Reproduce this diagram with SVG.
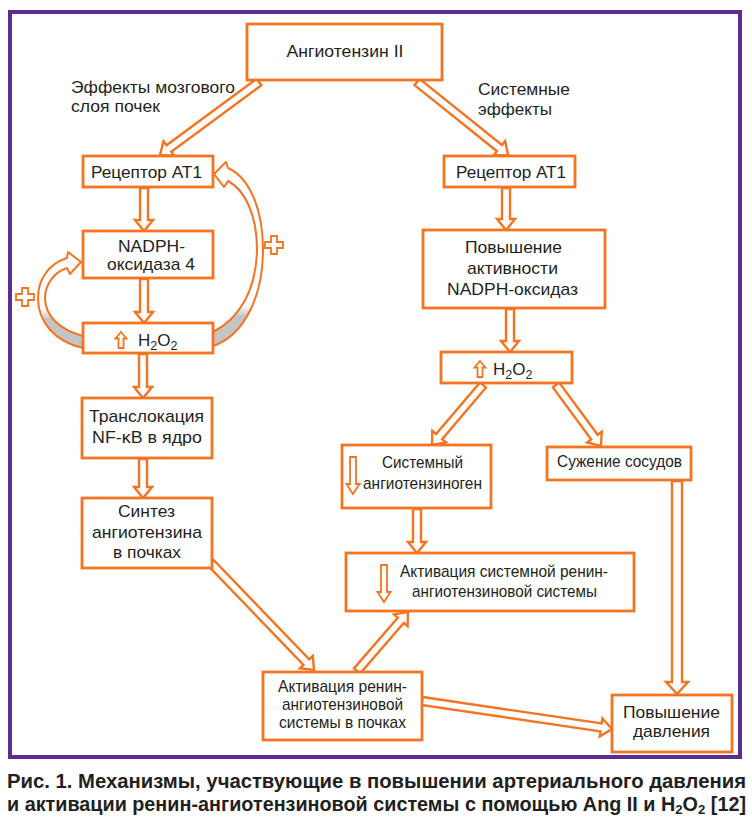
<svg xmlns="http://www.w3.org/2000/svg" width="752" height="834" viewBox="0 0 752 834">
<defs>
<style>
.box{fill:#fff;stroke:#F47421;stroke-width:2.8}
.arr{fill:#fff;stroke:#F47421;stroke-width:2.4;stroke-linejoin:miter}
.sm{fill:#fff;stroke:#F47421;stroke-width:1.8}
.t{font-family:"Liberation Sans",Arial,sans-serif;font-size:17px;fill:#231F20}
.c{text-anchor:middle}
.cap{font-family:"Liberation Sans Narrow","Liberation Sans",Arial,sans-serif;font-size:19.5px;font-weight:bold;fill:#231F20}
</style>
<linearGradient id="gR" gradientUnits="userSpaceOnUse" x1="0" y1="292" x2="0" y2="346">
<stop offset="0" stop-color="#fff"/><stop offset="0.25" stop-color="#fff"/><stop offset="0.45" stop-color="#c4c4c4"/><stop offset="1" stop-color="#c4c4c4"/>
</linearGradient>
<linearGradient id="gL" gradientUnits="userSpaceOnUse" x1="0" y1="300" x2="0" y2="348">
<stop offset="0" stop-color="#fff"/><stop offset="0.2" stop-color="#fff"/><stop offset="0.4" stop-color="#c4c4c4"/><stop offset="1" stop-color="#c4c4c4"/>
</linearGradient>
</defs>
<rect x="0" y="0" width="752" height="834" fill="#fff"/>
<rect x="10" y="12" width="730" height="745" fill="none" stroke="#5B2D8E" stroke-width="4"/>

<g id="connectors">
<path class="arr" transform="translate(259,82) rotate(143.6)" d="M0,-4 H112 V-9 L123,0 L112,9 V4 H0 Z"/>
<path class="arr" transform="translate(417,82) rotate(38.7)" d="M0,-4 H105.7 V-9 L116.7,0 L105.7,9 V4 H0 Z"/>
<path class="arr" transform="translate(144,188) rotate(90)" d="M0,-4 H32 V-9 L43,0 L32,9 V4 H0 Z"/>
<path class="arr" transform="translate(144,279) rotate(90)" d="M0,-4 H33 V-9 L44,0 L33,9 V4 H0 Z"/>
<path class="arr" transform="translate(143,354) rotate(90)" d="M0,-4 H33 V-9 L44,0 L33,9 V4 H0 Z"/>
<path class="arr" transform="translate(143,459) rotate(90)" d="M0,-4 H28 V-9 L39,0 L28,9 V4 H0 Z"/>
<path class="arr" transform="translate(211,563) rotate(46.1)" d="M0,-4 H137.5 V-9 L148.5,0 L137.5,9 V4 H0 Z"/>
<path class="arr" transform="translate(506,188) rotate(90)" d="M0,-4 H31 V-9 L42,0 L31,9 V4 H0 Z"/>
<path class="arr" transform="translate(510,309) rotate(90)" d="M0,-4 H32 V-9 L43,0 L32,9 V4 H0 Z"/>
<path class="arr" transform="translate(483,385) rotate(130.4)" d="M0,-4 H67.7 V-9 L78.7,0 L67.7,9 V4 H0 Z"/>
<path class="arr" transform="translate(556,385) rotate(53.6)" d="M0,-4 H64.8 V-9 L75.8,0 L64.8,9 V4 H0 Z"/>
<path class="arr" transform="translate(417,509) rotate(90)" d="M0,-4 H33 V-9 L44,0 L33,9 V4 H0 Z"/>
<path class="arr" transform="translate(677,481) rotate(90)" d="M0,-5 H201 V-11 L213,0 L201,11 V5 H0 Z"/>
<path class="arr" transform="translate(357,671) rotate(-49.2)" d="M0,-4 H67 V-9 L78,0 L67,9 V4 H0 Z"/>
<path class="arr" transform="translate(422,701) rotate(8.4)" d="M0,-4 H181 V-9 L192,0 L181,9 V4 H0 Z"/>
<path fill="url(#gR)" stroke="#F47421" stroke-width="2" stroke-linejoin="round" d="M214,174 L226,162 L228,168 C250,178 263,210 263,250 C263,295 245,335 213,346 L213,332 C240,318 256,290 257,250 C257,215 245,190 228,181 L224,187 Z"/>
<path fill="url(#gL)" stroke="#F47421" stroke-width="2" stroke-linejoin="round" d="M81,262 L68,252 L67,258 C48,264 38,280 38,298 C38,322 55,342 83,348 L83,336 C60,330 45,316 45,298 C45,285 54,272 67,268 L70,274 Z"/>
<path class="sm" transform="translate(274,245)" d="M-3,-9 H3 V-3 H9 V3 H3 V9 H-3 V3 H-9 V-3 H-3 Z"/>
<path class="sm" transform="translate(25,297)" d="M-3,-9 H3 V-3 H9 V3 H3 V9 H-3 V3 H-9 V-3 H-3 Z"/>
</g>

<g id="ang2"><rect class="box" x="247" y="24" width="195" height="56"/><text class="t c" x="345" y="57" textLength="117" lengthAdjust="spacingAndGlyphs">Ангиотензин II</text></g>
<g id="lbl-left"><text class="t" x="71" y="93" textLength="164" lengthAdjust="spacingAndGlyphs">Эффекты мозгового</text><text class="t" x="71" y="112" textLength="89" lengthAdjust="spacingAndGlyphs">слоя почек</text></g>
<g id="lbl-right"><text class="t" x="478" y="95" textLength="92" lengthAdjust="spacingAndGlyphs">Системные</text><text class="t" x="478" y="115" textLength="74" lengthAdjust="spacingAndGlyphs">эффекты</text></g>
<g id="at1-left"><rect class="box" x="83" y="156" width="130" height="31"/><text class="t c" x="146.5" y="178" textLength="111" lengthAdjust="spacingAndGlyphs">Рецептор AT1</text></g>
<g id="at1-right"><rect class="box" x="444" y="156" width="131" height="31"/><text class="t c" x="511" y="178" textLength="110" lengthAdjust="spacingAndGlyphs">Рецептор AT1</text></g>
<g id="nox4"><rect class="box" x="83" y="231" width="130" height="47"/><text class="t c" x="151.5" y="252" textLength="67" lengthAdjust="spacingAndGlyphs">NADPH-</text><text class="t c" x="151" y="270" textLength="88" lengthAdjust="spacingAndGlyphs">оксидаза 4</text></g>
<g id="h2o2-left"><rect class="box" x="83" y="323" width="130" height="30"/><path class="sm" transform="translate(121,340)" d="M0,-8 L5.5,-1.5 H2.5 V8 H-2.5 V-1.5 H-5.5 Z"/><text class="t" x="138" y="346">H<tspan font-size="12.5" dy="4">2</tspan><tspan dy="-4">O</tspan><tspan font-size="12.5" dy="4">2</tspan></text></g>
<g id="nfkb"><rect class="box" x="82" y="398" width="130" height="60"/><text class="t c" x="146.5" y="422" textLength="115" lengthAdjust="spacingAndGlyphs">Транслокация</text><text class="t c" x="147" y="443" textLength="110" lengthAdjust="spacingAndGlyphs">NF-κB в ядро</text></g>
<g id="synth"><rect class="box" x="82" y="498" width="130" height="70"/><text class="t c" x="146.5" y="517" textLength="57" lengthAdjust="spacingAndGlyphs">Синтез</text><text class="t c" x="147" y="538" textLength="110" lengthAdjust="spacingAndGlyphs">ангиотензина</text><text class="t c" x="147" y="558" textLength="68" lengthAdjust="spacingAndGlyphs">в почках</text></g>
<g id="nox-sys"><rect class="box" x="423" y="230" width="182" height="78"/><text class="t c" x="513.5" y="253" textLength="97" lengthAdjust="spacingAndGlyphs">Повышение</text><text class="t c" x="512.5" y="274" textLength="91" lengthAdjust="spacingAndGlyphs">активности</text><text class="t c" x="512.5" y="295" textLength="131" lengthAdjust="spacingAndGlyphs">NADPH-оксидаз</text></g>
<g id="h2o2-right"><rect class="box" x="441" y="352" width="131" height="31"/><path class="sm" transform="translate(480,369)" d="M0,-8 L5.5,-1.5 H2.5 V8 H-2.5 V-1.5 H-5.5 Z"/><text class="t" x="493" y="375">H<tspan font-size="12.5" dy="4">2</tspan><tspan dy="-4">O</tspan><tspan font-size="12.5" dy="4">2</tspan></text></g>
<g id="agt"><rect class="box" x="342" y="445" width="149" height="63"/><path class="sm" transform="translate(353,457)" d="M-3,0 H3 V27 H6.5 L0,37 L-6.5,27 H-3 Z"/><text class="t c" x="422.5" y="468" textLength="81" lengthAdjust="spacingAndGlyphs">Системный</text><text class="t c" x="422.5" y="489" textLength="119" lengthAdjust="spacingAndGlyphs">ангиотензиноген</text></g>
<g id="vaso"><rect class="box" x="547" y="447" width="144" height="33"/><text class="t c" x="619.5" y="467" textLength="125" lengthAdjust="spacingAndGlyphs">Сужение сосудов</text></g>
<g id="sys-ras"><rect class="box" x="346" y="553" width="288" height="58"/><path class="sm" transform="translate(384,565)" d="M-3,0 H3 V27 H6.5 L0,37 L-6.5,27 H-3 Z"/><text class="t c" x="504" y="577" textLength="208" lengthAdjust="spacingAndGlyphs">Активация системной ренин-</text><text class="t c" x="504.5" y="597" textLength="185" lengthAdjust="spacingAndGlyphs">ангиотензиновой системы</text></g>
<g id="kid-ras"><rect class="box" x="263" y="672" width="159" height="68"/><text class="t c" x="342.5" y="692" font-size="15" textLength="129" lengthAdjust="spacingAndGlyphs">Активация ренин-</text><text class="t c" x="342.5" y="710" font-size="15" textLength="121" lengthAdjust="spacingAndGlyphs">ангиотензиновой</text><text class="t c" x="342.5" y="728" font-size="15" textLength="127" lengthAdjust="spacingAndGlyphs">системы в почках</text></g>
<g id="bp"><rect class="box" x="612" y="695" width="120" height="57"/><text class="t c" x="671.5" y="718" textLength="97" lengthAdjust="spacingAndGlyphs">Повышение</text><text class="t c" x="671.5" y="737" textLength="77" lengthAdjust="spacingAndGlyphs">давления</text></g>

<g id="caption">
<text class="cap" x="7" y="788" textLength="739" lengthAdjust="spacingAndGlyphs">Рис. 1. Механизмы, участвующие в повышении артериального давления</text>
<text class="cap" x="7" y="811" textLength="739" lengthAdjust="spacingAndGlyphs">и активации ренин-ангиотензиновой системы с помощью Ang II и H<tspan font-size="13" dy="3">2</tspan><tspan dy="-3">O</tspan><tspan font-size="13" dy="3">2</tspan><tspan dy="-3"> [12]</tspan></text>
</g>
</svg>
